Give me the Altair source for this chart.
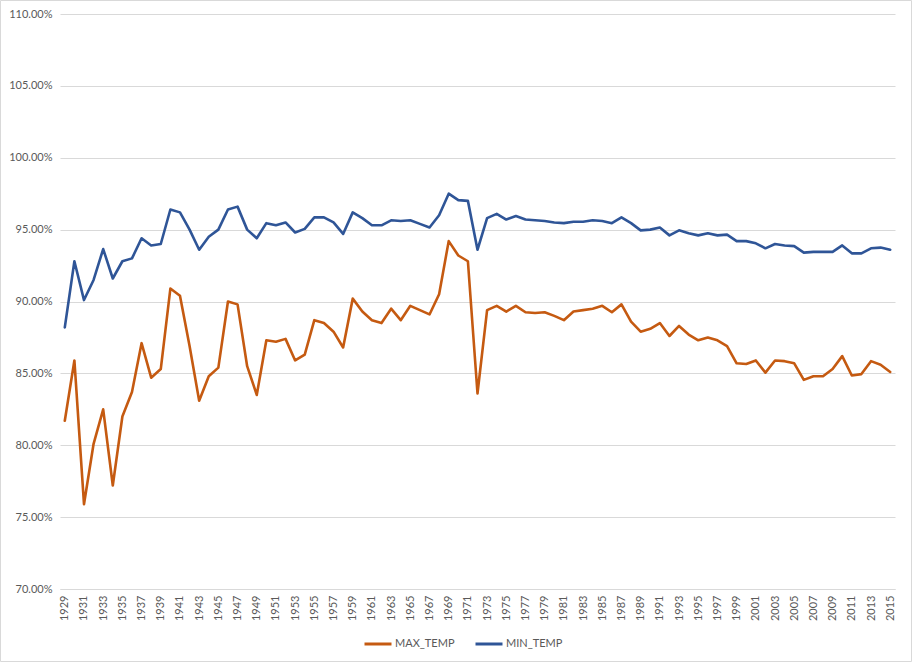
import altair as alt
import pandas as pd

years = list(range(1929, 2016))

max_temp = [
    81.7, 85.9, 75.9, 80.1, 82.5, 77.2, 82.0, 83.7, 87.1, 84.7,
    85.3, 90.9, 90.4, 86.9, 83.1, 84.8, 85.4, 90.0, 89.8, 85.5,
    83.5, 87.3, 87.2, 87.4, 85.9, 86.3, 88.7, 88.5, 87.9, 86.8,
    90.2, 89.3, 88.7, 88.5, 89.5, 88.7, 89.7, 89.4, 89.1, 90.5,
    94.2, 93.2, 92.8, 83.6, 89.4, 89.7, 89.3, 89.7, 89.25, 89.2,
    89.25, 89.0, 88.7, 89.3, 89.4, 89.5, 89.7, 89.25, 89.8, 88.6,
    87.9, 88.1, 88.5, 87.6, 88.3, 87.7, 87.3, 87.5, 87.3, 86.9,
    85.7, 85.65, 85.9, 85.05, 85.9, 85.85, 85.7, 84.55, 84.8, 84.8,
    85.3, 86.2, 84.85, 84.95, 85.85, 85.6, 85.1,
]

min_temp = [
    88.2, 92.8, 90.1, 91.5, 93.65, 91.6, 92.8, 93.0, 94.4, 93.9,
    94.0, 96.4, 96.2, 95.0, 93.6, 94.5, 95.0, 96.4, 96.6, 95.0,
    94.4, 95.45, 95.3, 95.5, 94.8, 95.05, 95.85, 95.85, 95.5, 94.7,
    96.2, 95.8, 95.3, 95.3, 95.65, 95.6, 95.65, 95.4, 95.15, 96.0,
    97.5, 97.05, 97.0, 93.6, 95.8, 96.1, 95.7, 95.95, 95.7, 95.65,
    95.6, 95.5, 95.45, 95.55, 95.55, 95.65, 95.6, 95.45, 95.85, 95.45,
    94.95, 95.0, 95.15, 94.6, 94.95, 94.75, 94.6, 94.75, 94.6, 94.65,
    94.2, 94.2, 94.05, 93.7, 94.0, 93.9, 93.85, 93.4, 93.45, 93.45,
    93.45, 93.9, 93.35, 93.35, 93.7, 93.75, 93.6,
]

series_names = ["MAX_TEMP", "MIN_TEMP"]
series_colors = ["#C55A11", "#2F5597"]
y_ticks = [0.70, 0.75, 0.80, 0.85, 0.90, 0.95, 1.00, 1.05, 1.10]
x_label_years = [y for y in years if (y - 1929) % 2 == 0]

rows = []
for yr, v in zip(years, max_temp):
    rows.append({"year": yr, "series": "MAX_TEMP", "value": v / 100})
for yr, v in zip(years, min_temp):
    rows.append({"year": yr, "series": "MIN_TEMP", "value": v / 100})
df = pd.DataFrame(rows)

FONT = "Lato"
GRAY = "#595959"

lines = alt.Chart(df).mark_line(
    strokeWidth=2.6, strokeJoin="round", strokeCap="round"
).encode(
    x=alt.X(
        "year:O",
        title=None,
        sort=years,
        axis=alt.Axis(
            values=x_label_years,
            labelAngle=-90,
            labelFontSize=11,
            labelColor=GRAY,
            labelFont=FONT,
            labelPadding=6,
            ticks=False,
            domain=True,
            domainColor="#d9d9d9",
            grid=False,
        ),
    ),
    y=alt.Y(
        "value:Q",
        title=None,
        scale=alt.Scale(domain=[0.70, 1.10], nice=False, zero=False),
        axis=alt.Axis(
            values=y_ticks,
            format=".2%",
            labelFontSize=11,
            labelColor=GRAY,
            labelFont=FONT,
            labelPadding=8,
            ticks=False,
            domain=False,
            grid=True,
            gridColor="#d9d9d9",
            gridWidth=1,
        ),
    ),
    color=alt.Color(
        "series:N",
        scale=alt.Scale(domain=series_names, range=series_colors),
        legend=alt.Legend(
            title=None,
            orient="none",
            direction="horizontal",
            legendX=303,
            legendY=615,
            symbolType="stroke",
            symbolSize=729,
            symbolStrokeWidth=3,
            labelFontSize=11,
            labelFont=FONT,
            labelColor=GRAY,
            labelOffset=2,
            columnPadding=14,
            padding=0,
        ),
    ),
)

frame = alt.Chart(alt.Data(values=[{}])).mark_rect(
    fillOpacity=0, stroke="#d9d9d9", strokeWidth=1
).encode(
    x=alt.value(-59.5),
    x2=alt.value(851.5),
    y=alt.value(-13.5),
    y2=alt.value(647.5),
)

chart = alt.layer(frame, lines).properties(
    width=835,
    height=575,
    autosize=alt.AutoSizeParams(type="none"),
    padding={"left": 60, "top": 14, "right": 18, "bottom": 74},
    background="white",
).configure_view(strokeWidth=0)

chart.save("out.html", embed_options={"renderer": "svg", "actions": False})
